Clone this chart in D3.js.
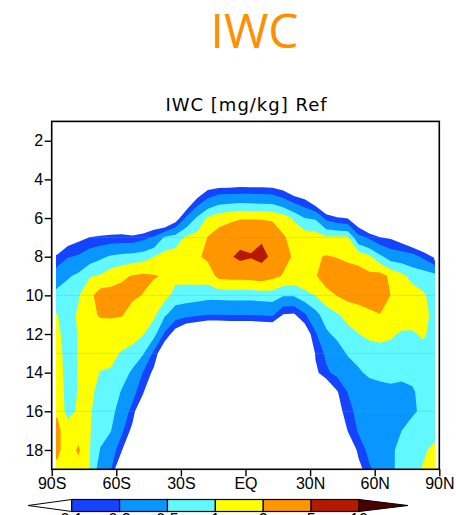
<!DOCTYPE html>
<html>
<head>
<meta charset="utf-8">
<script src="https://cdn.jsdelivr.net/npm/d3@7"></script>
<style>
  body { margin: 0; background: #ffffff; }
  svg { display: block; }
</style>
</head>
<body>
<svg id="chart" width="456" height="515"></svg>
<script>
// Grid latitudes (cell centres, degrees) and heights (km) of the zonal-mean IWC field
const latitudes = [-87.5, -82.5, -77.5, -72.5, -67.5, -62.5, -57.5, -52.5, -47.5, -42.5,
                   -37.5, -32.5, -27.5, -22.5, -17.5, -12.5, -7.5, -2.5, 2.5, 7.5,
                   12.5, 17.5, 22.5, 27.5, 32.5, 37.5, 42.5, 47.5, 52.5, 57.5,
                   62.5, 67.5, 72.5, 77.5, 82.5, 87.5];
const heights = [3, 4, 5, 6, 7, 8, 9, 10, 11, 12, 13, 14, 15, 16, 17, 18, 19];

// IWC [mg/kg], one profile (heights 3..19 km) per latitude
const iwcByLatitude = [
  [0, 0, 0, 0, 0.03, 0.115, 0.33, 0.64, 1.02, 1.18, 1.41, 1.55, 1.73, 1.9, 2.3, 2.3, 1.78],
  [0, 0, 0, 0, 0.06, 0.19, 0.45, 0.8, 0.78, 0.72, 0.7, 0.7, 0.72, 0.75, 1.5, 1.5, 1.4],
  [0, 0, 0, 0, 0.08, 0.22, 0.6, 0.95, 1.1, 1.05, 1.05, 1.05, 1.05, 1.15, 1.5, 2.2, 1.6],
  [0, 0, 0, 0, 0.1, 0.33, 0.95, 1.6, 1.75, 1.5, 1.35, 1.25, 1.15, 1.1, 1.08, 1.05, 1.02],
  [0, 0, 0, 0.035, 0.11, 0.43, 1.08, 2.8, 2.1, 1.58, 1.26, 0.98, 0.84, 0.71, 0.59, 0.49, 0.35],
  [0, 0, 0, 0.03, 0.12, 0.55, 1.45, 2.6, 2.14, 1.51, 1.19, 0.94, 0.79, 0.64, 0.51, 0.335, 0.214],
  [0, 0, 0, 0.03, 0.126, 0.63, 1.74, 2.7, 2.09, 1.41, 0.95, 0.71, 0.47, 0.34, 0.24, 0.112, 0.025],
  [0, 0, 0, 0.02, 0.119, 0.685, 2.1, 2.24, 1.57, 1.28, 0.81, 0.44, 0.27, 0.155, 0.075, 0, 0],
  [0, 0, 0, 0.015, 0.158, 0.74, 2.3, 1.95, 1.32, 1.04, 0.54, 0.19, 0.115, 0.025, 0, 0, 0],
  [0, 0, 0, 0.03, 0.22, 1.0, 2.1, 1.52, 1.13, 0.67, 0.164, 0.08, 0, 0, 0, 0, 0],
  [0, 0, 0, 0.02, 0.55, 1.28, 1.88, 1.28, 0.56, 0.174, 0.04, 0, 0, 0, 0, 0, 0],
  [0, 0, 0, 0.058, 0.71, 1.33, 1.21, 0.79, 0.32, 0.063, 0, 0, 0, 0, 0, 0, 0],
  [0, 0, 0.03, 0.233, 1.12, 1.66, 1.23, 0.77, 0.27, 0.03, 0, 0, 0, 0, 0, 0, 0],
  [0, 0.02, 0.105, 0.56, 1.27, 1.82, 1.28, 0.74, 0.23, 0.025, 0, 0, 0, 0, 0, 0, 0],
  [0, 0.04, 0.21, 1.1, 2.05, 2.3, 1.37, 0.67, 0.2, 0.02, 0, 0, 0, 0, 0, 0, 0],
  [0, 0.04, 0.31, 1.46, 2.8, 3.55, 2.4, 0.67, 0.2, 0.02, 0, 0, 0, 0, 0, 0, 0],
  [0, 0.04, 0.33, 1.69, 3.3, 4.5, 2.6, 0.68, 0.21, 0.022, 0, 0, 0, 0, 0, 0, 0],
  [0, 0.045, 0.34, 1.9, 3.6, 6.0, 2.6, 0.68, 0.21, 0.022, 0, 0, 0, 0, 0, 0, 0],
  [0, 0.045, 0.33, 1.9, 3.8, 5.3, 2.7, 0.68, 0.21, 0.022, 0, 0, 0, 0, 0, 0, 0],
  [0, 0.045, 0.32, 1.85, 4.4, 6.5, 2.9, 0.72, 0.22, 0.025, 0, 0, 0, 0, 0, 0, 0],
  [0, 0.042, 0.31, 1.75, 3.6, 4.2, 2.4, 0.75, 0.23, 0.028, 0, 0, 0, 0, 0, 0, 0],
  [0, 0.035, 0.215, 1.45, 2.15, 2.5, 1.9, 0.54, 0.097, 0, 0, 0, 0, 0, 0, 0, 0],
  [0, 0.02, 0.13, 0.9, 1.6, 1.85, 1.7, 0.55, 0.09, 0, 0, 0, 0, 0, 0, 0, 0],
  [0, 0, 0.095, 0.5, 1.5, 1.8, 1.55, 0.85, 0.18, 0.05, 0, 0, 0, 0, 0, 0, 0],
  [0, 0, 0.04, 0.45, 1.41, 1.85, 1.9, 1.02, 0.4, 0.18, 0.112, 0.08, 0, 0, 0, 0, 0],
  [0, 0, 0.015, 0.16, 1.12, 2.1, 2.8, 1.6, 0.7, 0.44, 0.24, 0.174, 0.03, 0, 0, 0, 0],
  [0, 0, 0, 0.11, 1.15, 1.95, 2.8, 2.05, 0.93, 0.6, 0.35, 0.25, 0.093, 0.063, 0, 0, 0],
  [0, 0, 0, 0.095, 1.1, 1.7, 2.9, 2.5, 1.26, 0.8, 0.54, 0.32, 0.204, 0.158, 0.105, 0.03, 0],
  [0, 0, 0, 0.04, 0.26, 1.58, 2.6, 2.5, 1.58, 0.99, 0.66, 0.45, 0.28, 0.25, 0.22, 0.13, 0.07],
  [0, 0, 0, 0.012, 0.17, 1.15, 2.35, 2.6, 1.8, 1.15, 0.76, 0.58, 0.34, 0.32, 0.32, 0.25, 0.18],
  [0, 0, 0, 0.02, 0.1, 0.6, 2.6, 2.7, 1.98, 1.2, 0.8, 0.63, 0.38, 0.35, 0.38, 0.35, 0.28],
  [0, 0, 0, 0.015, 0.09, 0.34, 1.74, 1.98, 1.6, 1.1, 0.8, 0.63, 0.42, 0.38, 0.43, 0.45, 0.44],
  [0, 0, 0, 0, 0.06, 0.32, 1.2, 1.5, 1.4, 0.93, 0.7, 0.58, 0.42, 0.42, 0.5, 0.6, 0.63],
  [0, 0, 0, 0, 0.03, 0.29, 0.79, 1.4, 1.35, 0.93, 0.7, 0.58, 0.47, 0.46, 0.63, 0.76, 0.8],
  [0, 0, 0, 0, 0.02, 0.17, 0.8, 1.06, 1.26, 1.1, 0.8, 0.63, 0.6, 0.56, 0.7, 0.91, 1.05],
  [0, 0, 0, 0, 0, 0.09, 0.67, 0.85, 0.83, 0.8, 0.7, 0.56, 0.56, 0.63, 0.8, 1.15, 1.32]
];

// Contour levels and their fill colours (band at or above each level)
const levels = [0.1, 0.2, 0.5, 1, 2, 5, 10];
const levelLabels = ["0.1", "0.2", "0.5", "1", "2", "5", "10"];
const fillColors = ["#1444ff", "#0a96ff", "#62f8ff", "#ffff00", "#ff9600", "#b41a00", "#4b0000"];
const belowColor = "#ffffff";

// Axis ticks
const latTicks = [-90, -60, -30, 0, 30, 60, 90];
const latTickLabels = ["90S", "60S", "30S", "EQ", "30N", "60N", "90N"];
const heightTicks = [2, 4, 6, 8, 10, 12, 14, 16, 18];
const seamHeights = [7, 10, 13, 16];
const dataLatLimit = 88;

const svg = d3.select("#chart");
const tickFont = "'Liberation Sans', Arial, Helvetica, sans-serif";

const plot = { left: 51.7, right: 439.3, top: 121.4, bottom: 469.3 };
const x = d3.scaleLinear().domain([-90, 90]).range([plot.left, plot.right]);
const y = d3.scaleLinear().domain([1, 19]).range([plot.top, plot.bottom]);

// Row-major grid of log10(IWC) for the contouring
const nx = latitudes.length, ny = heights.length;
const dLat = latitudes[1] - latitudes[0];
const dH = heights[1] - heights[0];
const grid = new Array(nx * ny);
for (let j = 0; j < ny; j++) {
  for (let i = 0; i < nx; i++) {
    grid[j * nx + i] = Math.log10(Math.max(iwcByLatitude[i][j], 0.01));
  }
}

const gridToScreen = d3.geoTransform({
  point(gx, gy) {
    this.stream.point(
      x(latitudes[0] + (gx - 0.5) * dLat),
      y(heights[0] + (gy - 0.5) * dH)
    );
  }
});
const path = d3.geoPath(gridToScreen);
const bands = d3.contours()
  .size([nx, ny])
  .thresholds(levels.map(Math.log10))(grid);

const defs = svg.append("defs");
defs.append("clipPath").attr("id", "data-clip")
  .append("rect")
  .attr("x", x(-dataLatLimit))
  .attr("y", y(1))
  .attr("width", x(dataLatLimit) - x(-dataLatLimit))
  .attr("height", y(19) - y(1));
defs.append("clipPath").attr("id", "cloud-clip")
  .append("path")
  .attr("d", path(bands[0]));

// Titles
svg.append("text")
  .attr("x", 254.5).attr("y", 47.5)
  .attr("text-anchor", "middle")
  .attr("font-family", "'Open Sans', 'Noto Sans', sans-serif")
  .attr("font-size", 48)
  .attr("fill", "#ff8f00")
  .text("IWC");

svg.append("text")
  .attr("x", 246.5).attr("y", 111)
  .attr("text-anchor", "middle")
  .attr("font-family", "'DejaVu Sans', sans-serif")
  .attr("font-size", 18)
  .attr("letter-spacing", "1px")
  .attr("fill", "#000")
  .text("IWC [mg/kg] Ref");

// Filled contours
svg.append("rect")
  .attr("x", plot.left).attr("y", plot.top)
  .attr("width", plot.right - plot.left).attr("height", plot.bottom - plot.top)
  .attr("fill", belowColor);

const field = svg.append("g").attr("clip-path", "url(#data-clip)");
field.selectAll("path.band")
  .data(bands)
  .join("path")
  .attr("class", "band")
  .attr("d", path)
  .attr("fill", (d, i) => fillColors[i]);

// Faint level seams across the filled field
field.append("g")
  .attr("clip-path", "url(#cloud-clip)")
  .selectAll("line")
  .data(seamHeights)
  .join("line")
  .attr("x1", plot.left).attr("x2", plot.right)
  .attr("y1", d => y(d)).attr("y2", d => y(d))
  .attr("stroke", "#5aaad6")
  .attr("stroke-opacity", 0.28)
  .attr("stroke-width", 1);

// Frame
svg.append("rect")
  .attr("x", plot.left).attr("y", plot.top)
  .attr("width", plot.right - plot.left).attr("height", plot.bottom - plot.top)
  .attr("fill", "none")
  .attr("stroke", "#000")
  .attr("stroke-width", 1.6);

// Axes
const yAxis = svg.append("g")
  .attr("transform", `translate(${plot.left},0)`)
  .call(d3.axisLeft(y).tickValues(heightTicks).tickSize(7).tickPadding(1.5))
  .call(g => g.select(".domain").remove());
const xAxis = svg.append("g")
  .attr("transform", `translate(0,${plot.bottom})`)
  .call(d3.axisBottom(x).tickValues(latTicks).tickSize(7).tickPadding(1.8)
    .tickFormat((d, i) => latTickLabels[i]))
  .call(g => g.select(".domain").remove());
[yAxis, xAxis].forEach(g => {
  g.attr("font-family", tickFont).attr("font-size", 16);
  g.selectAll(".tick line").attr("stroke", "#000").attr("stroke-width", 1.4);
  g.selectAll(".tick text").attr("fill", "#000");
});

// Colour bar
const cb = { top: 499.5, height: 12, leftTip: 28, rightTip: 408 };
const cbX = d3.scaleLinear().domain([0, levels.length - 1]).range([71.7, 359]);
const cbMid = cb.top + cb.height / 2;
const colorBar = svg.append("g");

colorBar.append("path")
  .attr("d", `M${cbX(0)},${cb.top}L${cb.leftTip},${cbMid}L${cbX(0)},${cb.top + cb.height}Z`)
  .attr("fill", belowColor).attr("stroke", "#000").attr("stroke-width", 1);

colorBar.selectAll("rect")
  .data(d3.range(levels.length - 1))
  .join("rect")
  .attr("x", i => cbX(i)).attr("y", cb.top)
  .attr("width", i => cbX(i + 1) - cbX(i)).attr("height", cb.height)
  .attr("fill", i => fillColors[i])
  .attr("stroke", "#000").attr("stroke-width", 1.2);

const last = levels.length - 1;
colorBar.append("path")
  .attr("d", `M${cbX(last)},${cb.top}L${cb.rightTip},${cbMid}L${cbX(last)},${cb.top + cb.height}Z`)
  .attr("fill", fillColors[last]).attr("stroke", "#000").attr("stroke-width", 1);

colorBar.selectAll("text")
  .data(levelLabels)
  .join("text")
  .attr("x", (d, i) => cbX(i))
  .attr("y", 524.5)
  .attr("text-anchor", "middle")
  .attr("font-family", tickFont)
  .attr("font-size", 16)
  .attr("fill", "#000")
  .text(d => d);
</script>
</body>
</html>
